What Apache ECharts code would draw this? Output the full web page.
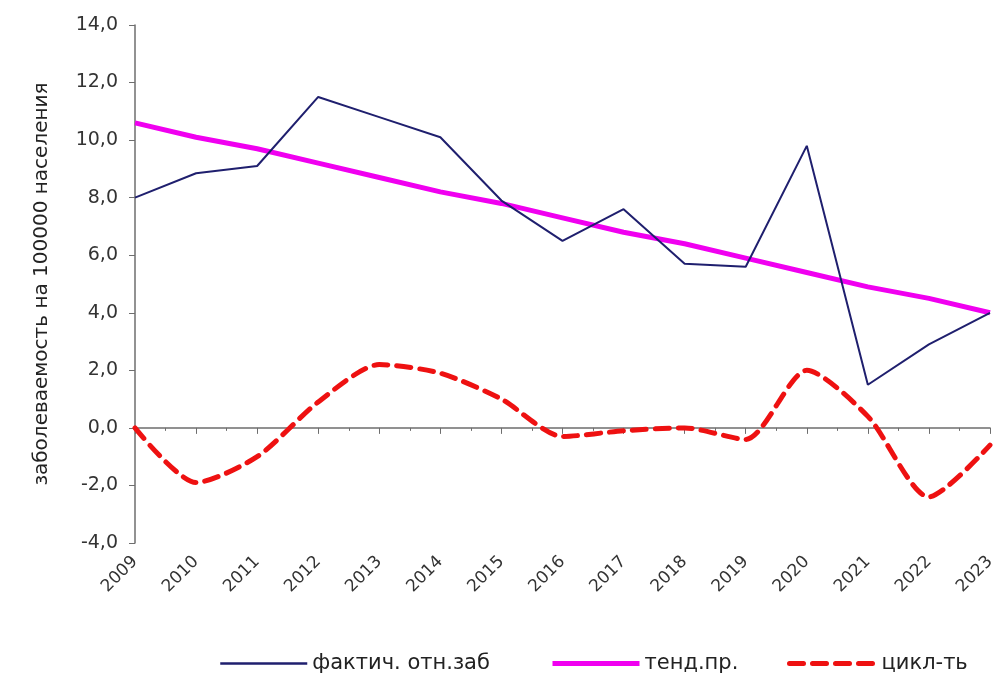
<!DOCTYPE html>
<html>
<head>
<meta charset="utf-8">
<script src="https://cdn.jsdelivr.net/npm/echarts@6/dist/echarts.min.js"></script>
<style>
html,body{margin:0;padding:0;background:#fff;}
#chart{width:997px;height:673px;}
</style>
</head>
<body>
<div id="chart"></div>
<script>
var years = ['2009','2010','2011','2012','2013','2014','2015','2016','2017','2018','2019','2020','2021','2022','2023'];
var fact = [8.0, 8.85, 9.1, 11.5, 10.8, 10.1, 7.9, 6.5, 7.6, 5.7, 5.6, 9.8, 1.5, 2.9, 4.0];
var trend = [10.6, 10.1, 9.7, 9.2, 8.7, 8.2, 7.8, 7.3, 6.8, 6.4, 5.9, 5.4, 4.9, 4.5, 4.0];
var cycle = [0.0, -1.9, -1.0, 0.9, 2.2, 1.9, 1.0, -0.3, -0.1, 0.0, -0.4, 2.0, 0.4, -2.4, -0.6];
var names = ['фактич. отн.заб', 'тенд.пр.', 'цикл-ть'];
var yName = 'заболеваемость на 100000 населения';

var font = 'DejaVu Sans';
var colors = ['#1f1f6e','#f000f0','#ee1111'];
var legendLeft = [214, 545, 782];
var legendWidth = [2.5, 5, 5];

var legends = [];
for(var i=0;i<names.length;i++){
	legends.push({
		data:[{name:names[i],lineStyle:{width:legendWidth[i]}}],
		left:legendLeft[i],
		top:648,
		itemWidth:87,
		itemHeight:14,
		itemStyle:{opacity:0},
		textStyle:{fontFamily:font,fontSize:21,color:'#222'}
	});
}

var chart = echarts.init(document.getElementById('chart'));
var option = {
	backgroundColor:'#fff',
	animation:false,
	grid:{
		left:135,
		right:7,
		top:25,
		bottom:130,
		containLabel:false,
		outerBoundsMode:'none'
	},
	legend:legends,
	xAxis:[
		{
			type:'category',
			data:years,
			boundaryGap:false,
			position:'bottom',
			axisLine:{show:false,onZero:false},
			axisTick:{show:false},
			axisLabel:{
				rotate:45,
				margin:16,
				interval:0,
				fontFamily:font,
				fontSize:17,
				color:'#333'
			},
			splitLine:{show:false}
		},
		{
			// линия нуля с делениями
			type:'value',
			min:0,
			max:14,
			interval:1,
			position:'bottom',
			axisLine:{show:true,onZero:true,lineStyle:{color:'#6e6e6e',width:1.5}},
			axisTick:{show:true,length:6,lineStyle:{color:'#6e6e6e'}},
			minorTick:{show:true,splitNumber:2,length:3,lineStyle:{color:'#6e6e6e'}},
			axisLabel:{show:false},
			splitLine:{show:false}
		}
	],
	yAxis:{
		type:'value',
		min:-4,
		max:14,
		interval:2,
		name:yName,
		nameLocation:'middle',
		nameGap:83,
		nameTextStyle:{fontFamily:font,fontSize:20,color:'#222'},
		axisLine:{show:true,onZero:false,lineStyle:{color:'#6e6e6e',width:1.5}},
		axisTick:{show:true,length:6,lineStyle:{color:'#6e6e6e'}},
		axisLabel:{
			fontFamily:font,
			fontSize:19,
			color:'#333',
			margin:17,
			formatter:function(v){ return v.toFixed(1).replace('.',','); }
		},
		splitLine:{show:false}
	},
	series:[
		{
			name:names[0],
			type:'line',
			xAxisIndex:0,
			data:fact,
			symbol:'none',
			lineStyle:{color:colors[0],width:2},
			itemStyle:{color:colors[0]},
			z:3
		},
		{
			name:names[1],
			type:'line',
			xAxisIndex:0,
			data:trend,
			symbol:'none',
			lineStyle:{color:colors[1],width:5},
			itemStyle:{color:colors[1]},
			z:2
		},
		{
			name:names[2],
			type:'line',
			xAxisIndex:0,
			data:cycle,
			symbol:'none',
			smooth:0.25,
			lineStyle:{color:colors[2],width:5,type:[14,9],cap:'round'},
			itemStyle:{color:colors[2]},
			z:2
		}
	]
};
chart.setOption(option);
</script>
</body>
</html>
